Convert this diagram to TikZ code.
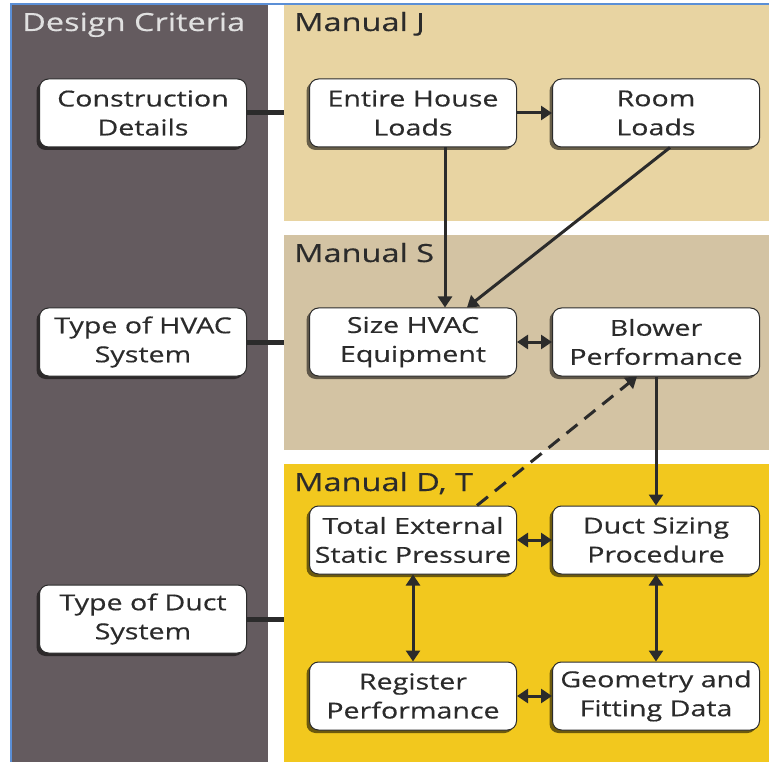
\documentclass[tikz,border=0pt]{standalone}
\usepackage{fontspec}
\setmainfont{Open Sans}[FakeStretch=1.3, FakeBold=0.4]
\usetikzlibrary{arrows.meta,shadows}
\definecolor{criteria}{HTML}{645B5F}
\definecolor{manj}{HTML}{E8D4A2}
\definecolor{mans}{HTML}{D3C3A3}
\definecolor{mand}{HTML}{F2C81E}
\definecolor{frameblue}{HTML}{5B8FD6}
\definecolor{ink}{HTML}{2B2B2B}

\begin{document}
\begin{tikzpicture}[x=1pt, y=-1pt,
  every node/.style = {font=\fontsize{22}{29}\selectfont, text=ink},
  box/.style = {shape=rectangle, rounded corners=9pt,
    draw=ink, line width=1pt, fill=white, align=center,
    minimum width=207pt, minimum height=68pt, inner sep=0pt,
    drop shadow={shadow xshift=-3pt, shadow yshift=-3pt, fill=black, opacity=0.55}},
  title/.style = {anchor=base west, inner sep=0pt, font=\fontsize{25}{29}\selectfont},
  flow/.style = {draw=ink, line width=3pt, -{Triangle[length=11pt,width=14pt]}},
  both/.style = {flow, {Triangle[length=11pt,width=14pt]}-{Triangle[length=11pt,width=14pt]}},
  link/.style = {draw=ink, line width=5pt}]
  \useasboundingbox (0,0) rectangle (769,762);
  \fill[white] (0,0) rectangle (769,762);
  \fill[criteria] (12,5) rectangle (268,762);
  \fill[manj] (284,5) rectangle (769,221);
  \fill[mans] (284,235) rectangle (769,450);
  \fill[mand] (284,464) rectangle (769,762);
  \draw[frameblue, line width=2pt] (11,762) -- (11,4) -- (769,4);

  \node[title, text=white!88!black] (crit) at (22,31) {Design Criteria};
  \node[title] (mj) at (294,31) {Manual J};
  \node[title] (ms) at (294,262) {Manual S};
  \node[title] (md) at (294,491) {Manual D, T};

  \node[box] (constr) at (143,113) {Construction\\Details};
  \node[box] (house) at (413,113) {Entire House\\Loads};
  \node[box] (room) at (656,113) {Room\\Loads};
  \node[box] (hvac) at (143,342) {Type of HVAC\\System};
  \node[box] (size) at (413,342) {Size HVAC\\Equipment};
  \node[box] (blower) at (656,342) {Blower\\Performance};
  \node[box] (tesp) at (413,540) {Total External\\Static Pressure};
  \node[box] (sizing) at (656,540) {Duct Sizing\\Procedure};
  \node[box] (duct) at (143,619) {Type of Duct\\System};
  \node[box] (reg) at (413,696) {Register\\Performance};
  \node[box] (geom) at (656,696) {Geometry and\\Fitting Data};

  \coordinate (jedge) at (284,113);
  \coordinate (sedge) at (284,342);
  \coordinate (dedge) at (284,619);
  \draw[link] (constr.east) -- (jedge);
  \draw[link] (hvac.east) -- (sedge);
  \draw[link] (duct.east) -- (dedge);

  \draw[flow] (house) -- (room);
  \draw[flow] ([xshift=32pt]house.south) -- ([xshift=32pt]size.north);
  \draw[flow] ([xshift=14pt]room.south) -- ([xshift=54pt]size.north);
  \draw[both] (size) -- (blower);
  \draw[flow] (blower) -- (sizing);
  \draw[flow, dash pattern=on 14pt off 9pt] ([xshift=64pt]tesp.north) -- ([xshift=-19pt]blower.south);
  \draw[both] (tesp) -- (sizing);
  \draw[both] (tesp) -- (reg);
  \draw[both] (sizing) -- (geom);
  \draw[both] (reg) -- (geom);
\end{tikzpicture}
\end{document}
